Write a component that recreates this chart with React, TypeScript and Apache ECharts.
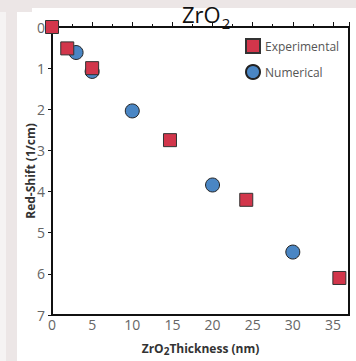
import React, { useEffect, useRef } from "react";
import * as echarts from "echarts";

const expX = [0, 1.9, 5, 14.7, 24.2, 35.8];
const expY = [0, 0.52, 1.0, 2.75, 4.2, 6.1];
const numX = [3, 5, 10, 20, 30];
const numY = [0.62, 1.08, 2.04, 3.84, 5.47];
const seriesNames = ["Experimental", "Numerical"];

export default function App() {
  const ref = useRef<HTMLDivElement>(null);
  useEffect(() => {
    if (!ref.current) return;
    const chart = echarts.init(ref.current, null, { renderer: "svg" });
    const font = "'Open Sans', sans-serif";
    chart.setOption({
      animation: false,
      backgroundColor: "transparent",
      title: {
        text: "ZrO{sub|2}",
        left: 182,
        top: -3,
        padding: 0,
        textStyle: {
          fontFamily: font,
          fontSize: 22,
          fontWeight: "normal",
          color: "#111",
          rich: {
            sub: {
              fontSize: 15,
              fontFamily: font,
              color: "#111",
              verticalAlign: "middle",
              padding: [18, 0, 0, 1],
            },
          },
        },
      },
      legend: {
        orient: "vertical",
        left: 240,
        top: 33,
        itemWidth: 14,
        itemHeight: 14,
        itemGap: 10,
        data: [
          { name: seriesNames[0], icon: "rect" },
          { name: seriesNames[1], icon: "circle" },
        ],
        textStyle: { fontFamily: font, fontSize: 12, color: "#555" },
      },
      grid: {
        left: 52,
        top: 27,
        right: 7,
        bottom: 39,
        show: true,
        borderColor: "#111",
        borderWidth: 2,
        backgroundColor: "transparent",
      },
      xAxis: {
        type: "value",
        min: 0,
        max: 37,
        interval: 5,
        name: "ZrO{sub|2}Thickness (nm)",
        nameLocation: "middle",
        nameGap: 25,
        nameTextStyle: {
          fontFamily: font,
          fontSize: 12,
          fontWeight: "bold",
          color: "#333",
          rich: {
            sub: { fontSize: 10, fontWeight: "bold", fontFamily: font, color: "#333", padding: [6, 0, 0, 0] },
          },
        },
        axisLine: { lineStyle: { color: "#111", width: 2 } },
        axisTick: { inside: true, length: 5, lineStyle: { color: "#111", width: 1 } },
        minorTick: { show: true, splitNumber: 2, length: 3, lineStyle: { color: "#111" } },
        splitLine: { show: false },
        axisLabel: { fontFamily: font, fontSize: 14, color: "#666", margin: 2, showMaxLabel: false },
      },
      yAxis: {
        type: "value",
        inverse: true,
        min: 0,
        max: 7,
        interval: 1,
        name: "Red-Shift (1/cm)",
        nameLocation: "middle",
        nameGap: 16,
        nameMoveOverlap: false,
        nameTextStyle: { fontFamily: font, fontSize: 12, fontWeight: "bold", color: "#333" },
        axisLine: { lineStyle: { color: "#111", width: 2 } },
        axisTick: { inside: false, length: 4, lineStyle: { color: "#111", width: 1 } },
        splitLine: { show: false },
        axisLabel: { fontFamily: font, fontSize: 14, color: "#666", margin: 7 },
      },
      series: [
        {
          name: seriesNames[1],
          type: "scatter",
          symbol: "circle",
          symbolSize: 14,
          clip: false,
          data: numX.map((x, i) => [x, numY[i]]),
          itemStyle: { color: "#4a86c4", borderColor: "#222", borderWidth: 1, opacity: 1 },
        },
        {
          name: seriesNames[0],
          type: "scatter",
          symbol: "rect",
          symbolSize: 13,
          clip: false,
          data: expX.map((x, i) => [x, expY[i]]),
          itemStyle: { color: "#d2364b", borderColor: "#333", borderWidth: 1, opacity: 1 },
        },
      ],
    });
    return () => chart.dispose();
  }, []);

  return (
    <div style={{ position: "fixed", left: 0, top: 0, width: 356, height: 361, background: "#ece6e6", overflow: "hidden" }}>
      <div style={{ position: "absolute", left: 0, top: 12, width: 6, height: 349, background: "#f5f3f3" }} />
      <div style={{ position: "absolute", left: 17, top: 12, width: 339, height: 349, background: "#ffffff" }} />
      <div style={{ position: "absolute", left: 32, top: 8, width: 324, height: 4, background: "#ffffff" }} />
      <div ref={ref} style={{ position: "absolute", left: 0, top: 0, width: 356, height: 361 }} />
    </div>
  );
}
